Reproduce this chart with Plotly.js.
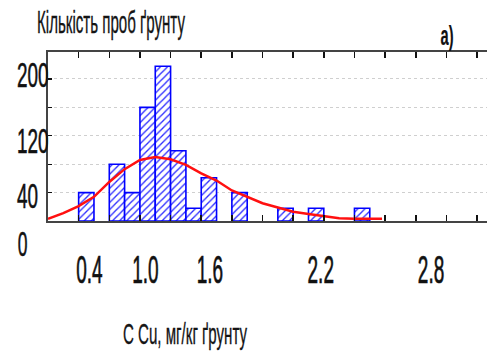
<!DOCTYPE html>
<html>
<head>
<meta charset="utf-8">
<script src="https://cdn.plot.ly/plotly-3.0.1.min.js"></script>
<style>
html,body{margin:0;padding:0;background:#fff;overflow:hidden;}
#chart{width:487px;height:362px;}
</style>
</head>
<body>
<div id="chart"></div>
<script>
// ---- data ----
var binLeft   = [0.4, 0.6, 0.7, 0.8, 0.9, 1.0, 1.1, 1.2, 1.4, 1.7, 1.9, 2.2];
var binCounts = [40,  80,  40,  160, 218, 99,  18,  61,  40,  18,  18,  18];
var binWidth  = 0.1;

var fitX = [0.2, 0.3, 0.4, 0.5, 0.6, 0.7, 0.8, 0.9, 1.0, 1.1, 1.2, 1.3, 1.4, 1.5, 1.6, 1.7, 1.8, 1.9, 2.0, 2.1, 2.2, 2.38];
var fitY = [3,   11,  21,  34,  55,  73,  86,  90,  87,  79,  67,  57,  43,  34,  25,  19,  13,  10,  7,   4,   3,   3];

var xTickText = ['0.4', '1.0', '1.6', '2.2', '2.8'];
var xTickPos  = [0.47, 0.836, 1.257, 1.98, 2.70];   // where the labels sit on the axis
var yTickVals = [40, 80, 120, 160, 200];
var yTickText = ['40', '', '120', '', '200'];

var titleText  = 'Кількість проб ґрунту';
var xTitleText = 'С Cu, мг/кг ґрунту';
var panelText  = 'a)';
var zeroText   = '0';

// ---- build ----
var binCenters = binLeft.map(function(v){ return v + binWidth/2; });
var xTickMarks = [];
for (var t = 0.4; t < 3.06; t += 0.2) xTickMarks.push(Math.round(t*10)/10);

var FONT = 'Liberation Sans, Arial, sans-serif';

var traces = [
  {
    type: 'bar', x: binCenters, y: binCounts, width: binWidth,
    marker: {
      color: 'white',
      line: {color: '#0000ff', width: 1.6},
      pattern: {shape: '/', fgcolor: '#2a2aff', bgcolor: 'white', size: 5, solidity: 0.26}
    },
    hoverinfo: 'skip', showlegend: false
  },
  {
    type: 'scatter', mode: 'lines', x: fitX, y: fitY,
    line: {color: '#ff1010', width: 2.5},
    hoverinfo: 'skip', showlegend: false, cliponaxis: false
  },
  { // empty trace so that the label axis (x2) is drawn
    type: 'scatter', mode: 'lines', x: [], y: [], xaxis: 'x2', yaxis: 'y',
    hoverinfo: 'skip', showlegend: false
  }
];

var layout = {
  width: 487, height: 362,
  margin: {l: 48, r: 0, t: 52, b: 141, pad: 0},
  paper_bgcolor: '#ffffff', plot_bgcolor: '#ffffff',
  bargap: 0,
  showlegend: false,
  font: {family: FONT, color: '#111'},
  title: {
    text: titleText,
    font: {family: FONT, size: 32, color: '#151515'},
    xref: 'container', yref: 'container',
    x: 37/487, xanchor: 'left', y: 1 - 22/362, yanchor: 'middle'
  },
  xaxis: {
    range: [0.2, 3.065],
    tickmode: 'array', tickvals: xTickMarks,
    showticklabels: false,
    ticks: 'inside', ticklen: 6, tickwidth: 1.5, tickcolor: '#111',
    showline: true, linecolor: '#444', linewidth: 2, mirror: 'ticks',
    showgrid: false, zeroline: false,
    title: {text: xTitleText, font: {family: FONT, size: 29, color: '#151515'}, standoff: 90}
  },
  xaxis2: {
    overlaying: 'x', anchor: 'y', side: 'bottom',
    range: [0.2, 3.065],
    tickmode: 'array', tickvals: xTickPos, ticktext: xTickText,
    tickangle: 0, ticks: '', showline: false, showgrid: false, zeroline: false,
    showticklabels: true,
    tickfont: {family: FONT, size: 38, color: '#111'}
  },
  yaxis: {
    range: [0, 238],
    tickmode: 'array', tickvals: yTickVals, ticktext: yTickText,
    ticks: 'inside', ticklen: 4, tickwidth: 1.2, tickcolor: '#111',
    tickfont: {family: FONT, size: 35, color: '#111'},
    showline: true, linecolor: '#444', linewidth: 2, mirror: false,
    showgrid: true, gridcolor: '#cfcfcf', gridwidth: 1, griddash: 'dot',
    zeroline: false
  },
  annotations: [
    {text: zeroText, xref: 'paper', yref: 'paper', x: (22.5-48)/439, y: (221-243)/169,
     xanchor: 'center', yanchor: 'middle', showarrow: false,
     font: {family: FONT, size: 35, color: '#111'}},
    {text: panelText, xref: 'paper', yref: 'paper', x: (447-48)/439, y: (221-36)/169,
     xanchor: 'center', yanchor: 'middle', showarrow: false,
     font: {family: FONT, size: 27, color: '#111', weight: 'bold'}}
  ]
};

// the reference's y labels sit slightly off their gridlines
var yLabelCenter = {'200': 74, '120': 140, '40': 195};

// squeeze text horizontally (the reference text is strongly condensed)
function shiftEl(el, dx, dy){
  el.setAttribute('x', (parseFloat(el.getAttribute('x')) || 0) + dx);
  el.setAttribute('y', (parseFloat(el.getAttribute('y')) || 0) + dy);
  var ts = el.querySelectorAll('tspan');
  for (var i = 0; i < ts.length; i++){
    if (ts[i].hasAttribute('x')) ts[i].setAttribute('x', parseFloat(ts[i].getAttribute('x')) + dx);
    if (ts[i].hasAttribute('y')) ts[i].setAttribute('y', parseFloat(ts[i].getAttribute('y')) + dy);
  }
}
function squeeze(el, o){
  if (!el) return;
  var len = el.getComputedTextLength();
  if (!len) return;
  var w = o.width || len * o.factor;
  el.setAttribute('textLength', w);
  el.setAttribute('lengthAdjust', 'spacingAndGlyphs');
  el.style.stroke = '#111';
  el.style.strokeWidth = (o.stroke || 0.6) + 'px';
  var r = el.getBoundingClientRect();
  var dx = 0, dy = 0;
  if (o.left != null) dx = o.left - r.left;
  else if (o.cx != null) dx = o.cx - (r.left + r.width/2);
  if (o.cy != null) dy = o.cy - (r.top + r.height/2);
  if (dx || dy) shiftEl(el, dx, dy);
}

var gd = document.getElementById('chart');
Plotly.newPlot(gd, traces, layout, {staticPlot: true, displayModeBar: false}).then(function(){
  var root = gd;
  root.querySelectorAll('g.ytick text').forEach(function(el){
    var c = yLabelCenter[el.textContent];
    squeeze(el, {factor: 0.54, left: 17, cy: c});
  });
  root.querySelectorAll('g.x2tick text').forEach(function(el){ squeeze(el, {factor: 0.5, cy: 270, stroke: 0.7}); });
  squeeze(root.querySelector('text.gtitle'), {width: 148, left: 37, cy: 22, stroke: 0.35});
  squeeze(root.querySelector('text.xtitle'), {width: 124, left: 123, cy: 334, stroke: 0.35});
  var ann = root.querySelectorAll('text.annotation-text');
  if (ann[0]) squeeze(ann[0], {factor: 0.5, cx: 22.5, cy: 243});
  if (ann[1]) squeeze(ann[1], {width: 13, cx: 447, cy: 36, stroke: 0.2});
});
</script>
</body>
</html>
